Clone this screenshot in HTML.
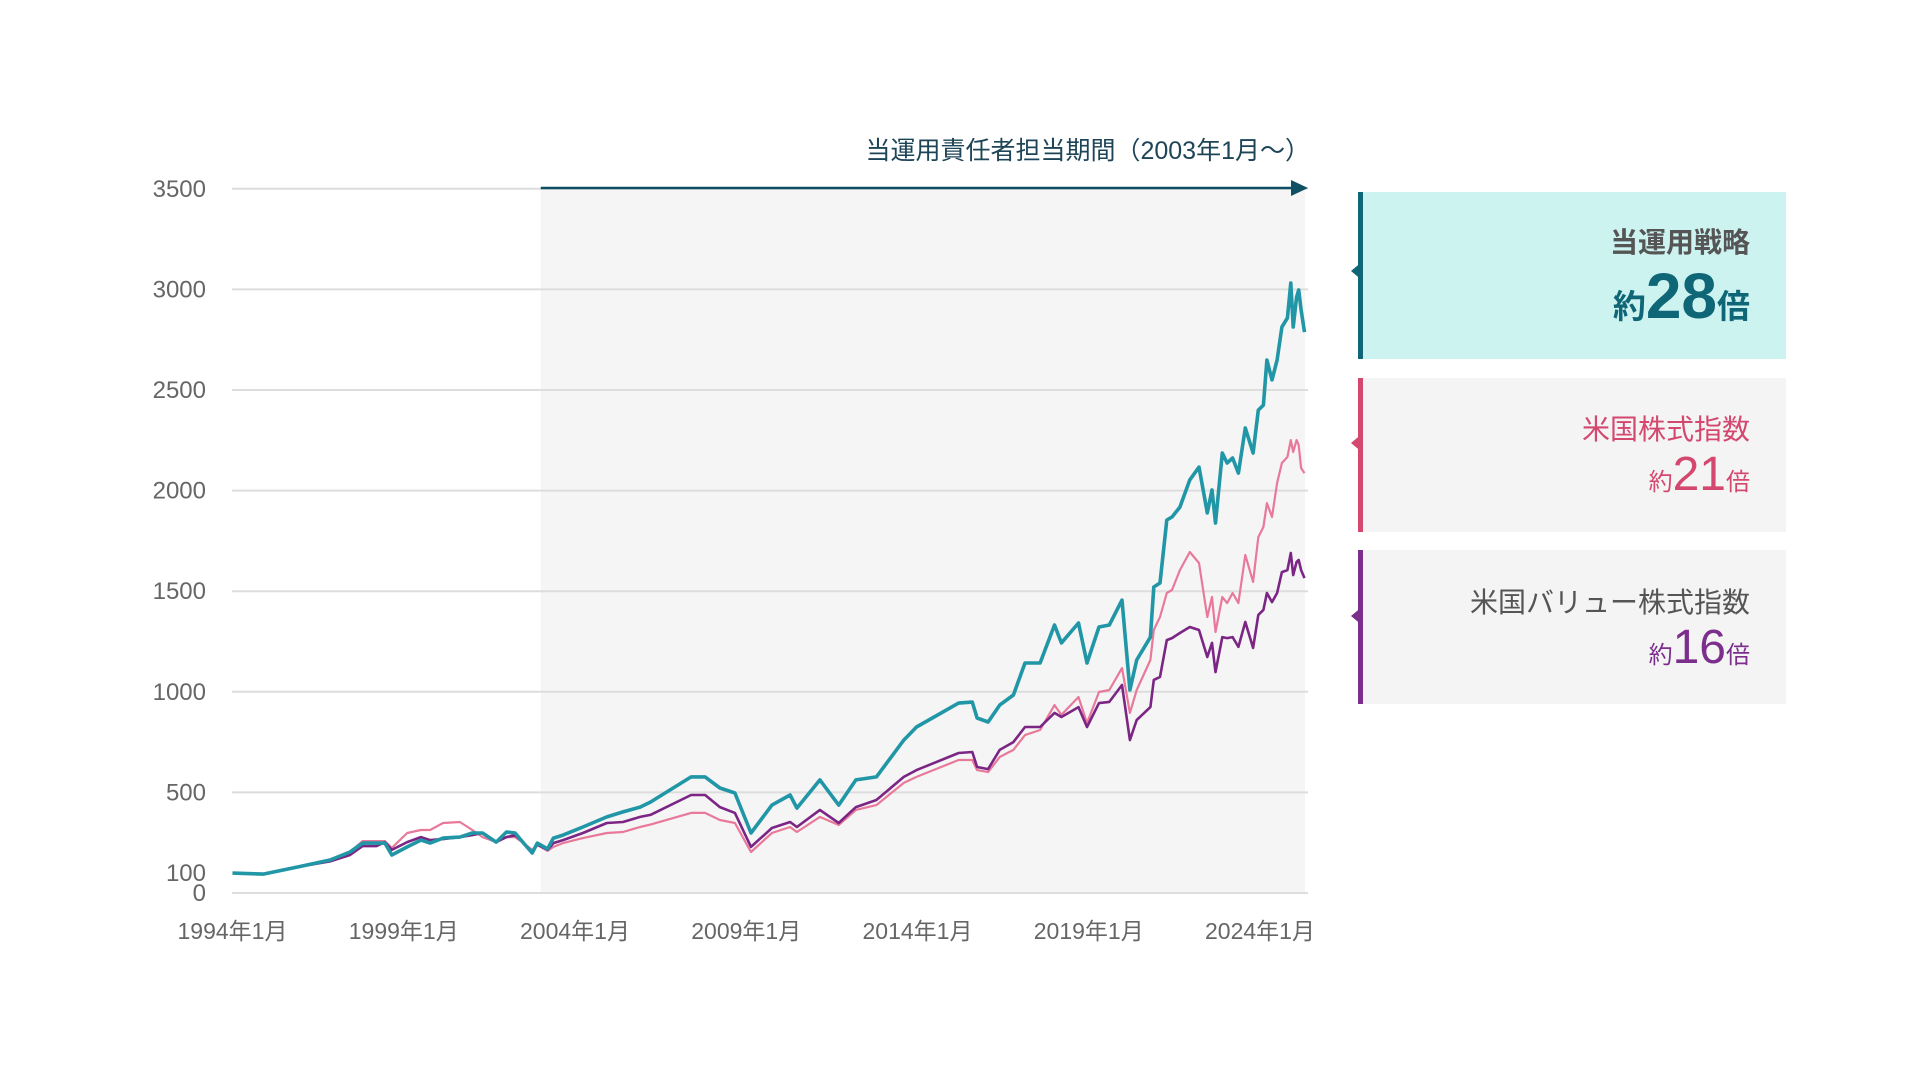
<!DOCTYPE html>
<html><head><meta charset="utf-8">
<style>
html,body{margin:0;padding:0;background:#fff;}
body{width:1920px;height:1080px;position:relative;overflow:hidden;font-family:"Liberation Sans","Noto Sans CJK JP",sans-serif;}
svg{position:absolute;left:0;top:0;}
.panel{position:absolute;left:1358px;width:428px;box-sizing:border-box;text-align:right;padding-right:36px;}
.panel .tri{position:absolute;left:-12px;width:0;height:0;border-top:10px solid transparent;border-bottom:10px solid transparent;border-right:12px solid;}
.ttl{font-family:"Noto Sans CJK JP",sans-serif;}
.big{font-family:"Liberation Sans","Noto Sans CJK JP",sans-serif;}
</style></head><body>
<svg id="chart" width="1920" height="1080" viewBox="0 0 1920 1080"></svg>

<div class="panel" style="top:192px;height:167px;background:#cdf3f1;border-left:5px solid #0e6677;">
  <div class="tri" style="top:69px;border-right-color:#0e6677;"></div>
  <div class="ttl" style="margin-top:31px;font-size:28px;font-weight:bold;color:#555;line-height:36px;">当運用戦略</div>
  <div style="margin-top:4px;color:#0e6677;font-weight:bold;line-height:66px;"><span class="ttl" style="font-size:33px;">約</span><span class="big" style="font-size:64px;">28</span><span class="ttl" style="font-size:33px;">倍</span></div>
</div>

<div class="panel" style="top:378px;height:154px;background:#f4f4f4;border-left:5px solid #d4486f;">
  <div class="tri" style="top:55px;border-right-color:#d4486f;"></div>
  <div class="ttl" style="margin-top:32px;font-size:28px;color:#d4486f;line-height:36px;">米国株式指数</div>
  <div style="margin-top:2px;color:#d4486f;line-height:54px;"><span class="ttl" style="font-size:24px;">約</span><span class="big" style="font-size:48px;">21</span><span class="ttl" style="font-size:24px;">倍</span></div>
</div>

<div class="panel" style="top:550px;height:154px;background:#f4f4f4;border-left:5px solid #7b2e8c;">
  <div class="tri" style="top:56px;border-right-color:#7b2e8c;"></div>
  <div class="ttl" style="margin-top:33px;font-size:28px;color:#555;line-height:36px;">米国バリュー株式指数</div>
  <div style="margin-top:2px;color:#7b2e8c;line-height:54px;"><span class="ttl" style="font-size:24px;">約</span><span class="big" style="font-size:48px;">16</span><span class="ttl" style="font-size:24px;">倍</span></div>
</div>

<script>
const dates = [1994.0,1994.9,1995.9,1996.85,1997.43,1997.8,1998.2,1998.45,1998.65,1999.1,1999.5,1999.77,2000.15,2000.64,2001.0,2001.3,2001.7,2002.0,2002.25,2002.5,2002.75,2002.9,2003.2,2003.37,2003.65,2004.23,2004.93,2005.4,2005.9,2006.2,2007.39,2007.8,2008.23,2008.67,2009.14,2009.75,2010.28,2010.48,2011.15,2011.7,2012.2,2012.8,2013.6,2013.97,2015.2,2015.6,2015.74,2016.06,2016.4,2016.8,2017.14,2017.58,2018.0,2018.2,2018.7,2018.95,2019.3,2019.6,2019.97,2020.2,2020.4,2020.8,2020.9,2021.08,2021.28,2021.43,2021.66,2021.95,2022.22,2022.46,2022.6,2022.7,2022.9,2023.04,2023.2,2023.37,2023.57,2023.8,2023.95,2024.1,2024.2,2024.35,2024.5,2024.64,2024.8,2024.9,2024.97,2025.07,2025.13,2025.2,2025.3];
const strategy = [99,94,129,164,204,248,248,248,189,229,263,248,273,278,298,298,253,303,298,248,199,248,219,273,288,328,378,403,427,452,577,577,522,497,298,437,487,422,562,437,562,577,760,825,944,949,870,850,934,984,1143,1143,1332,1243,1342,1143,1322,1332,1456,1009,1158,1272,1521,1541,1854,1869,1918,2053,2117,1889,2003,1839,2187,2137,2162,2087,2311,2187,2400,2425,2649,2550,2649,2813,2858,3032,2813,2962,2997,2898,2788];
const usEquity = [99,94,129,164,204,258,258,258,224,298,313,313,348,353,313,278,253,278,278,248,214,240,209,229,248,273,298,303,328,340,398,398,363,348,204,298,328,303,378,338,413,437,547,577,661,661,611,601,676,711,785,810,934,885,974,845,999,1009,1118,895,1009,1158,1307,1372,1491,1506,1605,1695,1640,1372,1471,1297,1471,1441,1491,1441,1680,1546,1769,1819,1938,1869,2038,2137,2167,2251,2192,2251,2226,2112,2087];
const usValue = [99,94,129,157,189,233,233,253,214,253,278,263,268,278,288,298,253,278,288,248,204,240,214,248,263,298,348,353,378,388,487,487,427,398,229,323,353,328,413,348,427,462,577,611,696,701,626,616,711,750,825,825,895,875,924,825,944,950,1034,760,860,924,1059,1074,1257,1267,1292,1322,1307,1173,1243,1098,1272,1267,1272,1223,1347,1218,1382,1407,1491,1446,1491,1595,1605,1690,1580,1645,1655,1605,1565];
const yTicks = [3500,3000,2500,2000,1500,1000,500,100,0];
const gridTicks = [3500,3000,2500,2000,1500,1000,500,0];
const xTicks = [1994,1999,2004,2009,2014,2019,2024];
const xTickLabels = ["1994年1月","1999年1月","2004年1月","2009年1月","2014年1月","2019年1月","2024年1月"];
const periodStart = 2003.0;

const NS = "http://www.w3.org/2000/svg";
const svg = document.getElementById("chart");
const X0 = 232.5, PXY = 34.25, Y0 = 893, PXV = 0.2012;
function xs(d){ return X0 + (d - 1994) * PXY; }
function ys(v){ return Y0 - v * PXV; }
function mk(tag, attrs){ const e = document.createElementNS(NS, tag); for (const k in attrs) e.setAttribute(k, attrs[k]); svg.appendChild(e); return e; }

const shade = mk("rect", {x: xs(periodStart), y: ys(3500), width: 1305 - xs(periodStart), height: Y0 - ys(3500), fill: "#f5f5f5"});



gridTicks.forEach(t => {
  const g = mk("line", {x1: 232, x2: 1308, y1: ys(t), y2: ys(t), stroke: "#dddddd", "stroke-width": 2});
  
  
});
yTicks.forEach(t => {
  const l = mk("text", {x: 206, y: ys(t) + 8, "text-anchor": "end", "font-size": 24, fill: "#666", "font-family": "Liberation Sans, sans-serif"});
  l.textContent = String(t);
  
  
});
xTicks.forEach((t, i) => {
  const l = mk("text", {x: xs(t), y: 939, "text-anchor": "middle", "font-size": 23, fill: "#666", "font-family": "Liberation Sans, Noto Sans CJK JP, sans-serif"});
  l.textContent = xTickLabels[i];
  
  
});

function series(vals, color, w, name){
  const d = vals.map((v, i) => (i ? "L" : "M") + xs(dates[i]).toFixed(1) + " " + ys(v).toFixed(1)).join(" ");
  const p = mk("path", {d: d, fill: "none", stroke: color, "stroke-width": w, "stroke-linejoin": "round"});
  
  
}
series(usEquity, "#e8799a", 2.2, "series-us-equity");
series(usValue, "#7b2584", 2.6, "series-us-value");
series(strategy, "#2196a6", 3.6, "series-strategy");

const arr = mk("line", {x1: xs(periodStart), x2: 1293, y1: 188, y2: 188, stroke: "#0e4f63", "stroke-width": 2.5});


const head = mk("polygon", {points: "1291,180 1308,188 1291,196", fill: "#0e4f63"});


const ttl = mk("text", {x: 1310, y: 159, "text-anchor": "end", "font-size": 25, fill: "#1d4457", "font-family": "Liberation Sans, Noto Sans CJK JP, sans-serif"});
ttl.textContent = "当運用責任者担当期間（2003年1月～）";


</script>
</body></html>
